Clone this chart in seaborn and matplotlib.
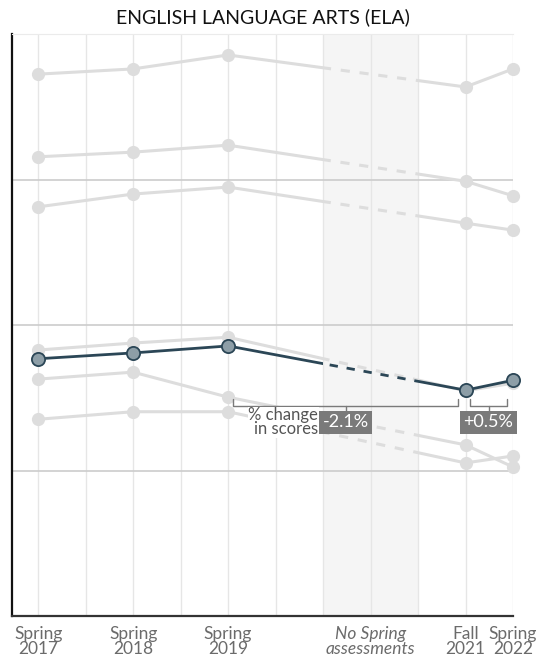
import numpy as np
import pandas as pd
import matplotlib
matplotlib.use('Agg')
import matplotlib.pyplot as plt
import matplotlib.transforms as mtransforms
from matplotlib.patches import Rectangle
import seaborn as sns

# x slots are half-years: Spring 2017 = 0 ... Spring 2022 = 10
term_pos = [0, 2, 4, 9, 10]
tick_labels = ['Spring\n2017', 'Spring\n2018', 'Spring\n2019', 'Fall\n2021', 'Spring\n2022']
gap_start, gap_end = 6, 8
gap_label = 'No Spring\nassessments'

# scores, one value per term (same order as term_pos)
others = {
    'g1': [93.1, 94.0, 96.4, 90.9, 94.0],
    'g2': [78.9, 79.7, 80.9, 74.7, 72.2],
    'g3': [70.3, 72.5, 73.7, 67.5, 66.3],
    'g4': [45.7, 46.9, 47.9, 38.7, 40.0],
    'g5': [40.7, 41.9, 37.6, 29.4, 25.6],
    'g6': [33.8, 35.1, 35.1, 26.3, 27.5],
}
focus = [44.2, 45.2, 46.4, 38.8, 40.5]

change_labels = ['-2.1%', '+0.5%']

GRAY = '#dddddd'
DARK = '#2b4656'
DOT = '#8d9ea7'

rows = []
for g, vals in others.items():
    for p, v in zip(term_pos, vals):
        rows.append((g, p, v))
df = pd.DataFrame(rows, columns=['group', 'pos', 'score'])
df_f = pd.DataFrame({'group': 'focus', 'pos': term_pos, 'score': focus})

sns.set_style('white')
plt.rcParams['font.family'] = ['Lato', 'DejaVu Sans']

fig, ax = plt.subplots(figsize=(5.44, 6.62), dpi=100)
fig.subplots_adjust(left=12/544, right=513/544, bottom=46/662, top=628/662)

ax.set_xlim(-0.55, 10)
ax.set_ylim(0, 100)

# background: missing-assessment band + grid
ax.axvspan(gap_start, gap_end, color='#f5f5f5', zorder=0, lw=0)
for i in range(11):
    ax.axvline(i, color='#e6e6e6', lw=1, zorder=0.5)
for yv in [25, 50, 75]:
    ax.axhline(yv, color='#cccccc', lw=1.2, zorder=0.6)


def bridge(v0, v1, color, lw, z):
    # 2019 -> Fall 2021: solid outside the band, dashed inside it
    parts = [(-1, gap_start, '-'), (gap_end, 11, '-'), (gap_start, gap_end, '--')]
    for x0, x1, ls in parts:
        ln, = ax.plot([4, 9], [v0, v1], color=color, lw=lw, ls=ls, zorder=z,
                      solid_capstyle='butt')
        if ls == '--':
            ln.set_dashes((3, 3.2))
        clip = Rectangle((x0, -50), x1 - x0, 200, transform=ax.transData)
        ln.set_clip_path(clip)


pre = df[df['pos'] <= 4]
post = df[df['pos'] >= 9]
for part in [pre, post]:
    sns.lineplot(data=part, x='pos', y='score', units='group', estimator=None,
                 color=GRAY, lw=2.2, marker='o', markersize=9.5,
                 markeredgewidth=0, ax=ax, zorder=2, clip_on=False, legend=False)
for g, vals in others.items():
    bridge(vals[2], vals[3], GRAY, 2.2, 1.9)

bridge(focus[2], focus[3], DARK, 2.0, 3.9)
for part in [df_f[df_f['pos'] <= 4], df_f[df_f['pos'] >= 9]]:
    sns.lineplot(data=part, x='pos', y='score', estimator=None, color=DARK,
                 lw=2.0, marker='o', markersize=9.5, markerfacecolor=DOT,
                 markeredgecolor=DARK, markeredgewidth=1.3, ax=ax, zorder=4,
                 clip_on=False, legend=False)

# change brackets
def bracket(x0, x1, label):
    yb, yt, yc = 36.1, 37.3, 35.2
    ax.plot([x0, x0, x1, x1], [yt, yb, yb, yt], color='#7a7a7a', lw=1, zorder=5)
    xm = (x0 + x1) / 2
    ax.plot([xm, xm], [yb, yc], color='#7a7a7a', lw=1, zorder=5)
    ax.text(xm, 33.3, label, ha='center', va='center', color='white',
            fontsize=13, zorder=6,
            bbox=dict(boxstyle='square,pad=0.2', fc='#7a7a7a', ec='none'))

bracket(4.1, 8.85, change_labels[0])
bracket(9.1, 9.87, change_labels[1])
ax.text(5.9, 33.3, '% change\nin scores', ha='right', va='center',
        color='#555555', fontsize=12, linespacing=0.8, zorder=5,
        bbox=dict(boxstyle='square,pad=0.05', fc='white', ec='none'))

# axes dressing
ax.set_xticks(term_pos + [7])
ax.set_xticklabels(tick_labels + [gap_label], linespacing=0.92)
labels = ax.get_xticklabels()
for t in labels:
    t.set_color('#6b6b6b')
    t.set_fontsize(12.5)
labels[-1].set_style('italic')
# nudge the two crowded labels at the right a little apart
for t, dx in [(labels[3], 5), (labels[4], 3)]:
    t.set_transform(t.get_transform() +
                    mtransforms.ScaledTranslation(dx / 100, 0, fig.dpi_scale_trans))
ax.tick_params(axis='x', length=0, pad=7)
ax.set_yticks([])
ax.set_xlabel('')
ax.set_ylabel('')

ax.spines['right'].set_visible(False)
ax.spines['top'].set_color('#ebebeb')
ax.spines['left'].set_color('#111111')
ax.spines['left'].set_linewidth(1.6)
ax.spines['bottom'].set_color('#333333')
ax.spines['bottom'].set_linewidth(1.6)

ax.set_title('ENGLISH LANGUAGE ARTS (ELA)', fontsize=14, color='#111111', pad=8)

fig.savefig('out.png', dpi=100)
